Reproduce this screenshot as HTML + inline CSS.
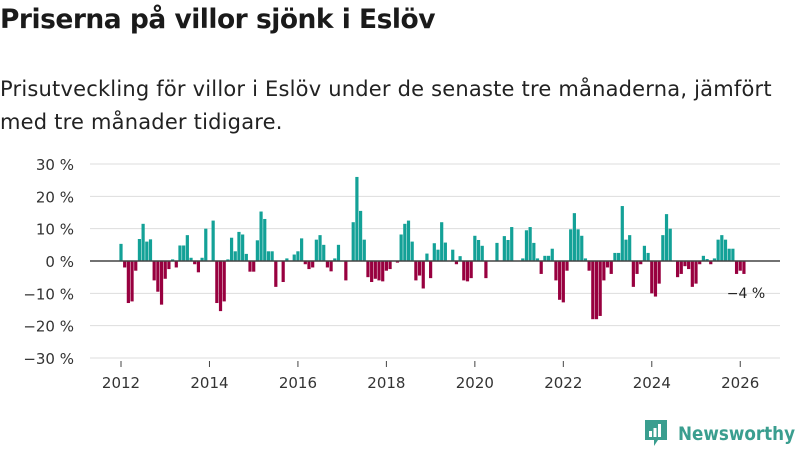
<!DOCTYPE html>
<html><head><meta charset="utf-8"><style>
body{margin:0;width:800px;height:450px;background:#fff;font-family:"Liberation Sans","DejaVu Sans",sans-serif;overflow:hidden;position:relative}
#title{position:absolute;left:0;top:4px;font-size:26.5px;font-weight:bold;color:#1a1a1a;font-family:"DejaVu Sans",sans-serif;letter-spacing:-0.5px}
#sub{position:absolute;left:0;top:73px;font-size:21px;line-height:33px;color:#222;font-family:"DejaVu Sans",sans-serif;width:790px;letter-spacing:0.2px}
svg{position:absolute;left:0;top:0}
</style></head><body>
<div id="title">Priserna på villor sjönk i Eslöv</div>
<div id="sub">Prisutveckling för villor i Eslöv under de senaste tre månaderna, jämfört med tre månader tidigare.</div>
<svg id="chart" width="800" height="450"></svg>
<script>
const values=[5.3,-2,-13,-12.5,-3,6.8,11.5,6,6.7,-6,-9.5,-13.5,-5.5,-2.5,0.5,-2,4.8,4.8,8,1,-1,-3.5,1,10,0,12.5,-13,-15.5,-12.5,0.5,7.2,3,9,8.2,2.2,-3.3,-3.3,6.4,15.3,13,3,3,-8,
0,-6.5,0.8,0,2,3,7,-1,-2.5,-2,6.6,8,5,-2,-3.2,0.8,5,0,-6,0,12,26,15.5,6.6,-5,-6.5,-5.5,-6,-6.3,-3,-2.5,0,-0.5,8.2,11.5,12.5,6,-6,-4.5,-8.5,2.3,-5.3,5.5,3.5,
12,5.7,0,3.5,-1,1.5,-6,-6.3,-5.3,7.8,6.5,4.7,-5.3,0,0,5.6,0,7.7,6.5,10.5,0,0,0.8,9.5,10.5,5.6,0.8,-4,1.6,1.6,3.8,-6,-12,-12.8,-3,9.8,14.8,9.8,7.8,0.8,-3,-18,-18,
-17,-6,-2,-4,2.5,2.5,17,6.6,8,-8,-4,-1,4.7,2.5,-10,-11,-7,8,14.5,10,0,-5,-4,-1.6,-2.5,-8,-7,-1,1.6,0.6,-1,0.8,6.6,8,6.6,3.8,3.8,-4,-3,-4];
const yTicks=[30,20,10,0,-10,-20,-30];
const xYears=[2012,2014,2016,2018,2020,2022,2024,2026];
const startYear=2012;
const lastLabel="−4 %";
const NS="http://www.w3.org/2000/svg";
const svg=document.getElementById('chart');
const y=v=>261-v*3.233;
const x=i=>121+i*3.686;
const xYear=yr=>121+(yr-startYear)*12*3.686;
function mk(t,a){const e=document.createElementNS(NS,t);for(const k in a)e.setAttribute(k,a[k]);svg.appendChild(e);return e;}
yTicks.forEach(t=>{
  const g=mk('line',{x1:90,x2:780,y1:y(t),y2:y(t),stroke:'#ddd','stroke-width':1});
  
  
  const l=mk('text',{x:74,y:y(t)+6,'text-anchor':'end','font-size':15,fill:'#333','font-family':'DejaVu Sans,sans-serif'});
  l.textContent=(t<0?'−'+(-t):t)+' %';
  
  
});
values.forEach((v,i)=>{
  const r=mk('rect',{x:x(i)-1.6,width:3.2,y:Math.min(y(v),261),height:Math.abs(y(v)-261),fill:v>=0?'#13a197':'#98003f'});
  
  
});
const z=mk('line',{x1:90,x2:780,y1:261,y2:261,stroke:'#444','stroke-width':1.5});


xYears.forEach(yr=>{
  const tk=mk('line',{x1:xYear(yr),x2:xYear(yr),y1:361,y2:367,stroke:'#444'});
  
  
  const l=mk('text',{x:xYear(yr),y:388,'text-anchor':'middle','font-size':15,fill:'#333','font-family':'DejaVu Sans,sans-serif'});
  l.textContent=yr;
  
  
});
const ll=mk('text',{x:x(values.length-1)+2,y:298,'text-anchor':'middle','font-size':14,fill:'#222','font-family':'DejaVu Sans,sans-serif'});
ll.textContent=lastLabel;


</script>
<svg width="160" height="34" style="left:640px;top:416px">
<path d="M5 4h22v20h-9l-4 6v-6H5z" fill="#3a9e8f"/>
<rect x="9" y="15" width="3" height="6" fill="#fff"/><rect x="13.5" y="12" width="3" height="9" fill="#fff"/><rect x="18" y="8" width="3" height="13" fill="#fff"/>
<text x="38" y="24" font-size="19" textLength="117" lengthAdjust="spacingAndGlyphs" fill="#3a9e8f" font-weight="bold" font-family="DejaVu Sans,sans-serif">Newsworthy</text>
</svg>
</body></html>
